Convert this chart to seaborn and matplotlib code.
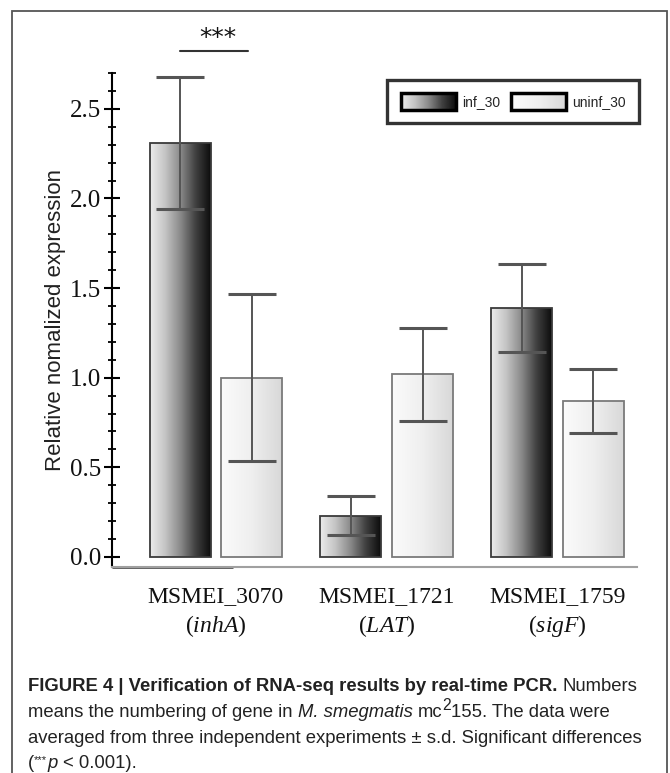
import numpy as np
import pandas as pd
import matplotlib
matplotlib.use("Agg")
import matplotlib.pyplot as plt
import seaborn as sns
from matplotlib.colors import LinearSegmentedColormap
from matplotlib.patches import Patch, Rectangle
from matplotlib.legend_handler import HandlerBase
from matplotlib.image import BboxImage
from matplotlib.transforms import Bbox, TransformedBbox
from matplotlib.ticker import MultipleLocator, FormatStrFormatter

# values
genes = ["MSMEI_3070", "MSMEI_1721", "MSMEI_1759"]
gene_alias = ["inhA", "LAT", "sigF"]
groups = ["inf_30", "uninf_30"]
inf_mean = [2.31, 0.23, 1.39]
inf_sd = [0.37, 0.11, 0.245]
uninf_mean = [1.00, 1.02, 0.87]
uninf_sd = [0.465, 0.26, 0.18]

df = pd.DataFrame({
    "gene": genes * 2,
    "group": [groups[0]] * 3 + [groups[1]] * 3,
    "value": inf_mean + uninf_mean,
})
sds = {groups[0]: inf_sd, groups[1]: uninf_sd}

sns.set_theme(style="white")
plt.rcParams["font.family"] = ["Liberation Sans", "DejaVu Sans"]
plt.rcParams["mathtext.fontset"] = "custom"
plt.rcParams["mathtext.rm"] = "Liberation Serif"
plt.rcParams["mathtext.it"] = "Liberation Serif:italic"

cmap_inf = LinearSegmentedColormap.from_list(
    "inf", ["#ececec", "#c4c4c4", "#8a8a8a", "#404040", "#0c0c0c"])
cmap_uninf = LinearSegmentedColormap.from_list(
    "uninf", ["#fbfbfb", "#efefef", "#d8d8d8"])
cmaps = {groups[0]: cmap_inf, groups[1]: cmap_uninf}
edges = {groups[0]: "#3a3a3a", groups[1]: "#7a7a7a"}
grad = np.linspace(0, 1, 256).reshape(1, -1)

fig = plt.figure(figsize=(6.7, 7.73), dpi=100)
ax = fig.add_axes([112 / 670, 1 - 567 / 773, (637 - 112) / 670, (567 - 73) / 773])

sns.barplot(data=df, x="gene", y="value", hue="group", order=genes,
            hue_order=groups, width=0.84, gap=0.15, errorbar=None,
            legend=False, palette=["#777777", "#dddddd"], saturation=1, ax=ax)

centers = {}
for grp, cont in zip(groups, ax.containers):
    centers[grp] = []
    for bar, sd in zip(cont, sds[grp]):
        x0, y0 = bar.get_x(), bar.get_y()
        w, h = bar.get_width(), bar.get_height()
        im = ax.imshow(grad, extent=[x0, x0 + w, y0, y0 + h], aspect="auto",
                       cmap=cmaps[grp], interpolation="bicubic", zorder=1.5)
        im.set_clip_path(bar)
        bar.set_facecolor("none")
        bar.set_edgecolor(edges[grp])
        bar.set_linewidth(1.3)
        bar.set_zorder(2)
        cx = x0 + w / 2
        centers[grp].append(cx)
        ax.errorbar(cx, y0 + h, yerr=sd, fmt="none", ecolor="#555555",
                    elinewidth=1.4, capsize=17, capthick=2.2, zorder=3)

ax.set_xlim(-0.609, 2.466)
ax.set_ylim(-0.056, 2.70)

ax.yaxis.set_major_locator(MultipleLocator(0.5))
ax.yaxis.set_minor_locator(MultipleLocator(0.1))
ax.yaxis.set_major_formatter(FormatStrFormatter("%.1f"))
ax.tick_params(axis="y", which="major", left=True, direction="inout",
               length=11, width=1.5, color="black", pad=2, labelsize=18,
               labelcolor="#111111", labelfontfamily="Liberation Serif")
ax.tick_params(axis="y", which="minor", left=True, direction="inout",
               length=6, width=1.3, color="black")

ax.set_xticks(range(len(genes)))
ax.set_xticklabels([f"{g}\n(" + r"$\mathit{" + a + "}$)"
                    for g, a in zip(genes, gene_alias)],
                   fontfamily="Liberation Serif", fontsize=17, color="#111111",
                   linespacing=1.3)
ax.tick_params(axis="x", length=0, pad=14)
ax.set_xlabel("")
ax.set_ylabel("Relative nomalized expression", fontsize=16, color="#222222")
ax.yaxis.set_label_coords(-0.088, 0.5)

for s in ["top", "right"]:
    ax.spines[s].set_visible(False)
ax.spines["left"].set_color("black")
ax.spines["left"].set_linewidth(1.5)
ax.spines["bottom"].set_color("#a0a0a0")
ax.spines["bottom"].set_linewidth(1.5)
ax.plot([0, 0.23], [0, 0], transform=ax.transAxes, color="#333333", lw=1.8,
        clip_on=False, solid_capstyle="butt")

# significance mark over the first gene
c1, c2 = centers[groups[0]][0], centers[groups[1]][0]
ax.plot([c1, c2 - 0.02], [2.82, 2.82], color="#333333", lw=1.5, clip_on=False)
ax.text((c1 + c2) / 2 + 0.01, 2.895, "***", ha="center", va="center",
        fontsize=18, fontfamily="DejaVu Sans", color="#111111", clip_on=False)


class GradHandler(HandlerBase):
    def __init__(self, cmap):
        super().__init__()
        self.cmap = cmap

    def create_artists(self, legend, orig_handle, xdescent, ydescent,
                       width, height, fontsize, trans):
        bb = TransformedBbox(Bbox.from_bounds(-xdescent, -ydescent, width, height), trans)
        img = BboxImage(bb, cmap=self.cmap, interpolation="bicubic")
        img.set_data(grad)
        img.set_clim(0, 1)
        rect = Rectangle((-xdescent, -ydescent), width, height, fill=False,
                         ec="black", lw=2.5, transform=trans)
        return [img, rect]


h_inf = Patch(label=groups[0])
h_uninf = Patch(label=groups[1])
leg_size = 10
leg = ax.legend(handles=[h_inf, h_uninf], ncol=2, loc="upper right",
                bbox_to_anchor=(1.004, 0.986), borderaxespad=0,
                handler_map={h_inf: GradHandler(cmap_inf), h_uninf: GradHandler(cmap_uninf)},
                prop={"family": "Liberation Sans", "size": leg_size},
                handlelength=55 / (leg_size * 100 / 72),
                handleheight=20 / (leg_size * 100 / 72),
                handletextpad=0.45, columnspacing=0.8, borderpad=0.95,
                fancybox=False, frameon=True)
leg.get_frame().set_edgecolor("black")
leg.get_frame().set_linewidth(2.4)

# figure border
fig.add_artist(Rectangle((12 / 670, -0.1), (667 - 12) / 670, 1.1 - 11 / 773,
                         transform=fig.transFigure, fill=False, ec="#555555", lw=1.3))

# caption
renderer = fig.canvas.get_renderer()
W, H = fig.bbox.width, fig.bbox.height
cap_size = 13.3
base = dict(fontsize=cap_size, color="#222222", fontfamily="Liberation Sans")


def text_w(s, **kw):
    t = fig.text(0, 0, s, **{**base, **kw})
    w = t.get_window_extent(renderer).width
    t.remove()
    return w


space = text_w("x x") - text_w("xx")


def caption_line(pieces, y_px):
    x = 28.0
    for txt, kw, gap, dy in pieces:
        x += gap * space
        t = fig.text(x / W, 1 - (y_px - dy) / H, txt, va="baseline",
                     **{**base, **kw})
        x = t.get_window_extent(renderer).x1


bold = dict(fontweight="bold")
ital = dict(fontstyle="italic")
sup = dict(fontsize=cap_size * 0.85)
sup2 = dict(fontsize=cap_size * 0.6)
caption_line([("FIGURE 4 | Verification of RNA-seq results by real-time PCR.", bold, 0, 0),
              ("Numbers", {}, 1, 0)], 691)
caption_line([("means the numbering of gene in", {}, 0, 0),
              ("M. smegmatis", ital, 1, 0),
              ("mc", {}, 1, 0),
              ("2", sup, 0, 7),
              ("155. The data were", {}, 0, 0)], 717)
caption_line([("averaged from three independent experiments \u00b1 s.d. Significant differences", {}, 0, 0)], 743)
caption_line([("(", {}, 0, 0),
              ("***", sup2, 0, 5),
              ("p", ital, 0, 0),
              ("< 0.001).", {}, 1, 0)], 768.5)

fig.savefig("out.png", dpi=100)
